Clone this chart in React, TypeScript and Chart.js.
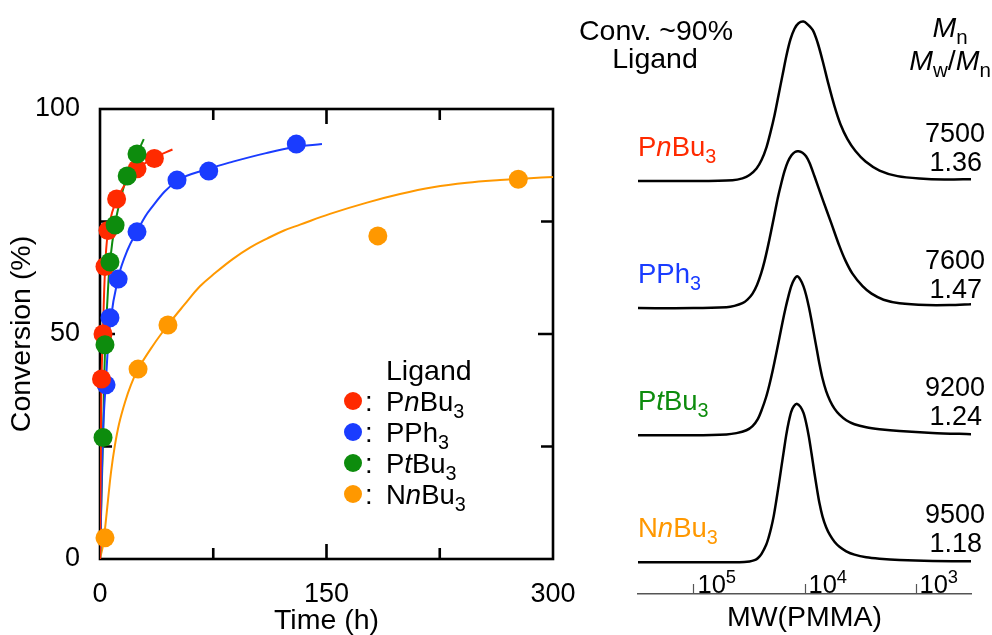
import React, { useEffect, useRef } from 'react';
import { Chart, registerables } from 'chart.js';

Chart.register(...registerables);

const FONT = '"Liberation Sans", Arial, Helvetica, sans-serif';

// ---------- Left panel: conversion vs time ----------
const timeTicks = [0, 75, 150, 225, 300];
const convTicks = [0, 25, 50, 75, 100];

const timePnBu3 = [1, 2, 3.3, 5.3, 11, 24.5, 36];
const convPnBu3 = [40, 50, 65, 73, 80, 86.7, 89];
const timePPh3 = [4, 6.6, 12, 24.5, 51, 72, 130];
const convPPh3 = [38.7, 53.6, 62.2, 72.7, 84.2, 86.2, 92.2];
const timePtBu3 = [2, 3.3, 6.6, 10, 18, 24.5];
const convPtBu3 = [27, 47.6, 66, 74.2, 85.1, 90];
const timeNnBu3 = [3.3, 25.2, 45, 184, 277];
const convNnBu3 = [4.7, 42.2, 52, 71.8, 84.4];

// fitted curves
const fitTimePnBu3 = [0, 0.5, 1, 2, 3.3, 5, 8, 12, 18, 24, 36, 48];
const fitConvPnBu3 = [0, 22, 40, 51, 64, 72, 77, 80.5, 84, 86.5, 89.2, 91];
const fitTimePPh3 = [0, 2, 4, 6.6, 12, 18, 24.5, 33, 51, 72, 88, 110, 130, 147];
const fitConvPPh3 = [0, 28, 40, 52, 62.5, 68.5, 72.8, 77.6, 84, 86.7, 88.3, 90.2, 91.6, 92.2];
const fitTimePtBu3 = [0, 1, 2, 3.3, 5, 6.6, 10, 14, 18, 24.5, 29];
const fitConvPtBu3 = [0, 14, 27, 46, 58, 66, 74.5, 80.5, 85, 90, 93.3];
const fitTimeNnBu3 = [0, 2, 3.6, 5.3, 7.3, 9.6, 12.6, 16.6, 20.5, 25.2, 35, 45, 55.6, 66.2, 76.8, 88.1, 99.3, 110.6, 121.9, 132.5, 152.3, 176.8, 198.7, 220.5, 243, 264.9, 284.8, 300];
const fitConvNnBu3 = [0, 3.1, 7.6, 13.1, 19.3, 24.7, 30, 34.9, 38.7, 42.2, 47.4, 52, 56.4, 60.6, 63.7, 66.7, 69.2, 71.2, 73, 74.3, 76.7, 79.2, 81.1, 82.6, 83.6, 84.2, 84.6, 84.9];

const colorPnBu3 = '#ff2a00';
const colorPPh3 = '#1a3cff';
const colorPtBu3 = '#0d8c0d';
const colorNnBu3 = '#ff9800';

// ---------- Right panel: GPC traces (log10 MW vs intensity) ----------
const mwTickLogs = [5, 4, 3];
const mwTickLabels = ['10', '10', '10'];
const mwTickExps = ['5', '4', '3'];

const logMwPnBu3 = [5.5, 5.0, 4.649, 4.559, 4.495, 4.432, 4.387, 4.342, 4.306, 4.27, 4.234, 4.198, 4.162, 4.126, 4.09, 4.054, 4.009, 3.973, 3.925, 3.883, 3.838, 3.784, 3.73, 3.676, 3.613, 3.541, 3.45, 3.324, 3.162, 2.964, 2.739, 2.495];
const intPnBu3 = [0, 0, 0.5, 1.7, 3.8, 7.9, 13.2, 21.4, 30.8, 41.5, 54.1, 66.7, 79.2, 89.3, 95.9, 99.4, 100.4, 98.7, 95, 87.4, 76.1, 61, 47.2, 35.8, 26.4, 18.9, 12.3, 6.6, 3.1, 1.6, 1.0, 1.2];

const logMwPPh3 = [5.5, 5.0, 4.703, 4.631, 4.559, 4.514, 4.468, 4.428, 4.39, 4.36, 4.331, 4.3, 4.27, 4.241, 4.21, 4.18, 4.15, 4.117, 4.086, 4.054, 4.018, 3.986, 3.955, 3.91, 3.835, 3.759, 3.685, 3.631, 3.568, 3.477, 3.396, 3.288, 3.144, 2.901, 2.694, 2.495];
const intPPh3 = [0, 0, 0.6, 1.4, 3.1, 5.3, 9.1, 14.5, 22, 29.6, 38.4, 48.7, 59.1, 69.2, 78.3, 86.2, 92.1, 96.2, 98.3, 98.7, 97.8, 95.6, 91.5, 83, 68.2, 53.5, 39, 29.9, 21.7, 13.8, 9.1, 5.3, 3.1, 1.9, 1.9, 2.5];

const logMwPtBu3 = [5.5, 5.0, 4.703, 4.613, 4.523, 4.468, 4.421, 4.383, 4.345, 4.315, 4.286, 4.255, 4.225, 4.198, 4.171, 4.144, 4.12, 4.095, 4.066, 4.036, 4.009, 3.985, 3.961, 3.937, 3.91, 3.887, 3.865, 3.838, 3.805, 3.77, 3.73, 3.685, 3.624, 3.55, 3.444, 3.324, 3.144, 2.847, 2.495];
const intPtBu3 = [0, 0, 0.5, 1.3, 3.1, 5.7, 10.1, 16.4, 24.2, 32.1, 40.9, 51.3, 61.6, 71.1, 79.9, 87.7, 93.7, 97.8, 100, 97.8, 93.7, 88.1, 80.8, 72.3, 61.9, 53.1, 44.7, 35.8, 27.7, 21.7, 16.7, 12.9, 9.4, 6.9, 5, 3.8, 2.6, 1.4, 0.6];

const logMwNnBu3 = [5.5, 5.0, 4.586, 4.495, 4.45, 4.421, 4.387, 4.345, 4.324, 4.3, 4.277, 4.255, 4.232, 4.21, 4.187, 4.165, 4.142, 4.12, 4.095, 4.066, 4.036, 4.009, 3.985, 3.961, 3.937, 3.91, 3.887, 3.865, 3.838, 3.805, 3.77, 3.73, 3.685, 3.624, 3.55, 3.444, 3.324, 3.144, 2.847, 2.495];
const intNnBu3 = [0, 0, 0, 0.5, 1.3, 2.5, 5.3, 11, 15.4, 21.7, 29.2, 38.4, 48.7, 59.1, 69.8, 79.9, 88.4, 94.7, 98.4, 99.7, 97.8, 94, 87.7, 79.2, 68.6, 56, 45.9, 37.1, 28.9, 22, 17, 12.9, 9.7, 6.9, 4.8, 3.1, 2.2, 1.4, 0.8, 0.6];

const mnValues = ['7500', '7600', '9200', '9500'];
const dispersityValues = ['1.36', '1.47', '1.24', '1.18'];

type Seg = [string, string?];
const ligandRich: Seg[][] = [
  [['P'], ['n', 'i'], ['Bu'], ['3', 's']],
  [['PPh'], ['3', 's']],
  [['P'], ['t', 'i'], ['Bu'], ['3', 's']],
  [['N'], ['n', 'i'], ['Bu'], ['3', 's']],
];
const ligandColors = [colorPnBu3, colorPPh3, colorPtBu3, colorNnBu3];

const WORD = 28.5; // size for words
const NUM = 27; // size for numbers
const NAME = 27.5; // size for ligand names

function drawRich(ctx: CanvasRenderingContext2D, segs: Seg[], x: number, yBase: number, size: number, color: string, align: 'left' | 'right' | 'center' = 'left') {
  const parts = segs.map(([t, s]) => {
    const small = s === 's' || s === 'sup';
    const fs = small ? size * 0.72 : size;
    const font = `${s === 'i' ? 'italic ' : ''}${fs}px ${FONT}`;
    ctx.font = font;
    const w = ctx.measureText(t).width;
    const dy = s === 's' ? size * 0.25 : s === 'sup' ? -size * 0.4 : 0;
    return { t, font, w, dy };
  });
  const total = parts.reduce((a, p) => a + p.w, 0);
  let cx = align === 'left' ? x : align === 'right' ? x - total : x - total / 2;
  ctx.fillStyle = color;
  ctx.textAlign = 'left';
  ctx.textBaseline = 'alphabetic';
  for (const p of parts) {
    ctx.font = p.font;
    ctx.fillText(p.t, cx, yBase + p.dy);
    cx += p.w;
  }
}

const toPts = (xs: number[], ys: number[]) => xs.map((x, i) => ({ x, y: ys[i] }));

const traceBase = 20;
const traceSpacing = 80;

const leftPlugin = {
  id: 'leftDecor',
  beforeDatasetsDraw(chart: any) {
    const { ctx, chartArea: a, scales } = chart;
    const xs = scales.x;
    const ys = scales.y;
    ctx.save();
    ctx.strokeStyle = '#000';
    ctx.lineWidth = 2.6;
    ctx.strokeRect(a.left, a.top, a.right - a.left, a.bottom - a.top);
    ctx.beginPath();
    for (const t of timeTicks) {
      if (t === timeTicks[0] || t === timeTicks[timeTicks.length - 1]) continue;
      const px = xs.getPixelForValue(t);
      const len = t === 150 ? 15 : 11;
      ctx.moveTo(px, a.bottom);
      ctx.lineTo(px, a.bottom - len);
      ctx.moveTo(px, a.top);
      ctx.lineTo(px, a.top + len);
    }
    for (const c of convTicks) {
      if (c === convTicks[0] || c === convTicks[convTicks.length - 1]) continue;
      const py = ys.getPixelForValue(c);
      const len = c === 50 ? 15 : 12;
      ctx.moveTo(a.left, py);
      ctx.lineTo(a.left + len, py);
      ctx.moveTo(a.right, py);
      ctx.lineTo(a.right - len, py);
    }
    ctx.stroke();
    ctx.restore();
  },
  afterDraw(chart: any) {
    const { ctx, chartArea: a } = chart;
    ctx.save();
    const x0 = a.left + 286;
    ctx.fillStyle = '#000';
    ctx.font = `${WORD}px ${FONT}`;
    ctx.textAlign = 'left';
    ctx.textBaseline = 'alphabetic';
    ctx.fillText('Ligand', x0, a.top + 271);
    for (let i = 0; i < 4; i++) {
      const base = a.top + 302 + i * 31;
      ctx.beginPath();
      ctx.fillStyle = ligandColors[i];
      ctx.arc(a.left + 253, base - 10, 9, 0, Math.PI * 2);
      ctx.fill();
      ctx.fillStyle = '#000';
      ctx.font = `${NAME}px ${FONT}`;
      ctx.fillText(':', a.left + 265, base);
      drawRich(ctx, ligandRich[i], x0, base, NAME, '#000');
    }
    ctx.restore();
  },
};

const rightPlugin = {
  id: 'rightDecor',
  afterDraw(chart: any) {
    const { ctx, chartArea: a, scales } = chart;
    const xs = scales.x;
    const ys = scales.y;
    ctx.save();
    // header
    ctx.fillStyle = '#000';
    ctx.font = `${WORD}px ${FONT}`;
    ctx.textAlign = 'center';
    ctx.textBaseline = 'alphabetic';
    ctx.fillText('Conv. ~90%', a.left + 18, 40);
    ctx.fillText('Ligand', a.left + 17, 68);
    drawRich(ctx, [['M', 'i'], ['n', 's']], a.right - 21, 37, WORD, '#000', 'center');
    drawRich(ctx, [['M', 'i'], ['w', 's'], ['/'], ['M', 'i'], ['n', 's']], a.right - 21, 70, WORD, '#000', 'center');
    // per-trace labels
    for (let i = 0; i < 4; i++) {
      const basePx = ys.getPixelForValue(traceBase + (3 - i) * traceSpacing);
      drawRich(ctx, ligandRich[i], a.left, basePx - 25, NAME, ligandColors[i]);
      ctx.fillStyle = '#000';
      ctx.font = `${NUM}px ${FONT}`;
      ctx.textAlign = 'right';
      ctx.fillText(mnValues[i], a.right + 14, basePx - 39);
      ctx.fillText(dispersityValues[i], a.right + 11, basePx - 10);
    }
    // MW axis ticks and labels
    ctx.strokeStyle = '#555';
    ctx.lineWidth = 1.2;
    ctx.beginPath();
    for (let i = 0; i < mwTickLogs.length; i++) {
      const px = Math.round(xs.getPixelForValue(mwTickLogs[i])) + 0.5;
      ctx.moveTo(px, a.bottom);
      ctx.lineTo(px, a.bottom - 10);
    }
    ctx.stroke();
    for (let i = 0; i < mwTickLogs.length; i++) {
      const px = xs.getPixelForValue(mwTickLogs[i]);
      drawRich(ctx, [[mwTickLabels[i]], [mwTickExps[i], 'sup']], px + 4, a.bottom - 1, 25.5, '#000');
    }
    ctx.restore();
  },
};

export default function App() {
  const leftRef = useRef<HTMLCanvasElement>(null);
  const rightRef = useRef<HTMLCanvasElement>(null);

  useEffect(() => {
    const pointDs = (label: string, xs: number[], ys: number[], color: string, order: number) => ({
      label,
      data: toPts(xs, ys),
      backgroundColor: color,
      borderColor: color,
      pointRadius: 9.5,
      pointHoverRadius: 9.5,
      pointBorderWidth: 0,
      showLine: false,
      clip: false as any,
      order,
    });
    const fitDs = (label: string, xs: number[], ys: number[], color: string) => ({
      label,
      data: toPts(xs, ys),
      borderColor: color,
      backgroundColor: color,
      borderWidth: 2,
      pointRadius: 0,
      showLine: true,
      tension: 0.4,
      order: 10,
    });

    const left = new Chart(leftRef.current!, {
      type: 'scatter',
      data: {
        datasets: [
          fitDs('PnBu3 fit', fitTimePnBu3, fitConvPnBu3, colorPnBu3),
          fitDs('PPh3 fit', fitTimePPh3, fitConvPPh3, colorPPh3),
          fitDs('PtBu3 fit', fitTimePtBu3, fitConvPtBu3, colorPtBu3),
          fitDs('NnBu3 fit', fitTimeNnBu3, fitConvNnBu3, colorNnBu3),
          pointDs('NnBu3', timeNnBu3, convNnBu3, colorNnBu3, 4),
          pointDs('PPh3', timePPh3, convPPh3, colorPPh3, 3),
          pointDs('PnBu3', timePnBu3, convPnBu3, colorPnBu3, 2),
          pointDs('PtBu3', timePtBu3, convPtBu3, colorPtBu3, 1),
        ] as any,
      },
      options: {
        responsive: false,
        animation: false,
        devicePixelRatio: 1,
        layout: { padding: { top: 109, right: 47, left: 0, bottom: 0 } },
        plugins: { legend: { display: false }, tooltip: { enabled: false } },
        scales: {
          x: {
            type: 'linear',
            min: 0,
            max: 300,
            grid: { display: false, drawTicks: false },
            border: { display: false },
            ticks: { stepSize: 150, color: '#000', padding: 19, font: { family: FONT, size: NUM } },
            title: { display: true, text: 'Time (h)', color: '#000', font: { family: FONT, size: WORD, lineHeight: 1 }, padding: { top: 0, bottom: 0 } },
            afterFit: (s: any) => { s.height = 76; },
          },
          y: {
            type: 'linear',
            min: 0,
            max: 100,
            grid: { display: false, drawTicks: false },
            border: { display: false },
            ticks: { stepSize: 50, color: '#000', padding: 20, font: { family: FONT, size: NUM } },
            title: { display: true, text: 'Conversion (%)', color: '#000', font: { family: FONT, size: WORD, lineHeight: 1 }, padding: { top: 8, bottom: 0 } },
            afterFit: (s: any) => { s.width = 100; },
          },
        },
      },
      plugins: [leftPlugin],
    });

    const traceDs = (label: string, xs: number[], ys: number[], idx: number) => ({
      label,
      data: xs.map((x, i) => ({ x, y: traceBase + (3 - idx) * traceSpacing + ys[i] })),
      borderColor: '#000',
      backgroundColor: '#000',
      borderWidth: 2.5,
      pointRadius: 0,
      showLine: true,
      tension: 0.3,
    });

    const right = new Chart(rightRef.current!, {
      type: 'scatter',
      data: {
        datasets: [
          traceDs('PnBu3', logMwPnBu3, intPnBu3, 0),
          traceDs('PPh3', logMwPPh3, intPPh3, 1),
          traceDs('PtBu3', logMwPtBu3, intPtBu3, 2),
          traceDs('NnBu3', logMwNnBu3, intNnBu3, 3),
        ] as any,
      },
      options: {
        responsive: false,
        animation: false,
        devicePixelRatio: 1,
        layout: { padding: { top: 0, right: 21, left: 68, bottom: 0 } },
        plugins: { legend: { display: false }, tooltip: { enabled: false } },
        scales: {
          x: {
            type: 'linear',
            reverse: true,
            min: 2.5,
            max: 5.5,
            grid: { display: true, drawOnChartArea: false, drawTicks: false },
            border: { display: true, color: '#555', width: 1.5 },
            ticks: { display: false },
            title: { display: true, text: 'MW(PMMA)', color: '#000', font: { family: FONT, size: WORD, lineHeight: 1 }, padding: { top: 0, bottom: 3 } },
            afterFit: (s: any) => { s.height = 41; },
          },
          y: {
            type: 'linear',
            display: false,
            min: 0,
            max: 374,
          },
        },
      },
      plugins: [rightPlugin],
    });

    return () => {
      left.destroy();
      right.destroy();
    };
  }, []);

  return (
    <div style={{ position: 'fixed', left: 0, top: 0, width: 992, height: 635, background: '#fff' }}>
      <canvas ref={leftRef} width={600} height={635} style={{ position: 'absolute', left: 0, top: 0, width: 600, height: 635 }} />
      <canvas ref={rightRef} width={422} height={635} style={{ position: 'absolute', left: 570, top: 0, width: 422, height: 635 }} />
    </div>
  );
}
